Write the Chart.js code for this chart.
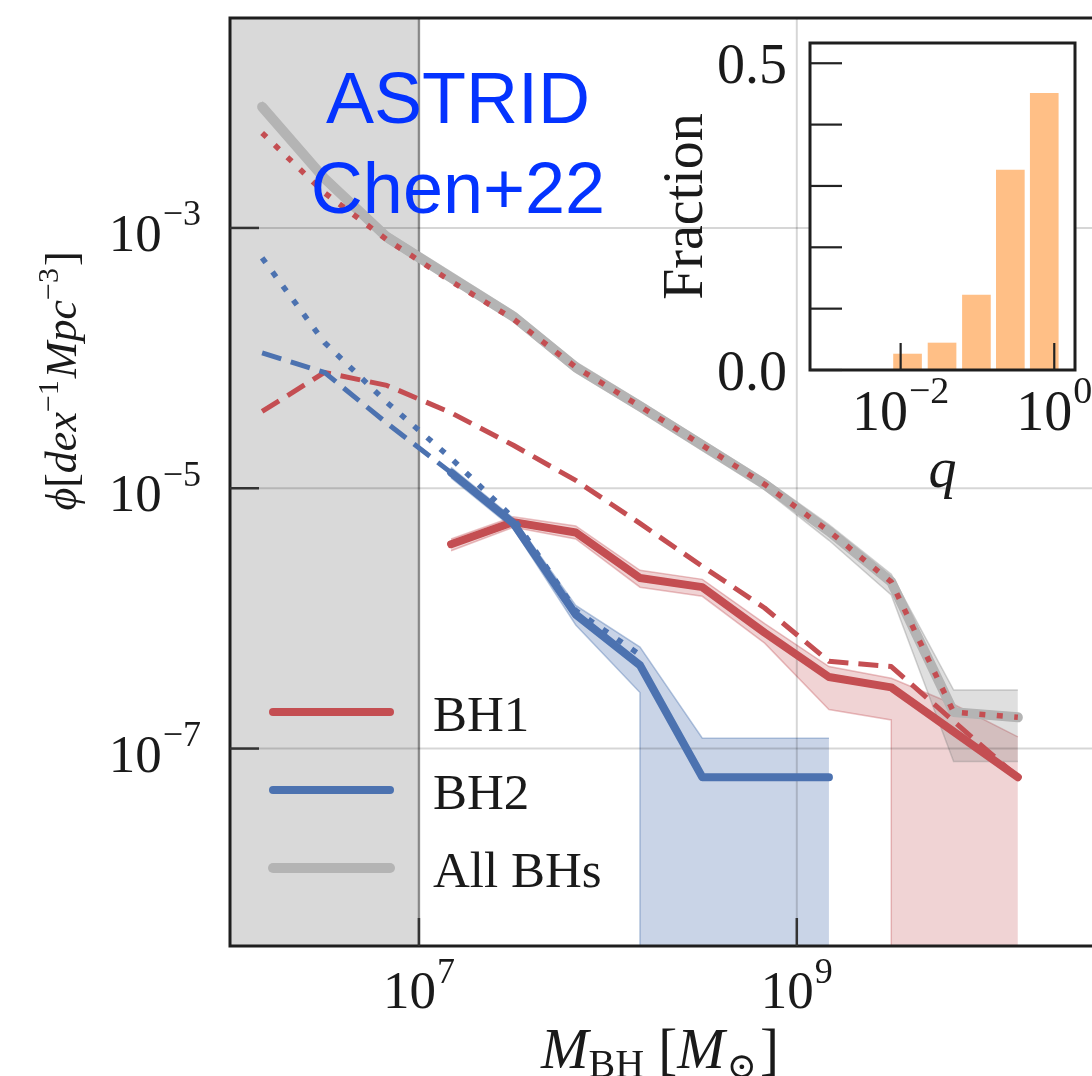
<!DOCTYPE html>
<html>
<head>
<meta charset="utf-8">
<title>BH mass function - ASTRID</title>
<script src="https://cdn.jsdelivr.net/npm/chart.js@4.4.1/dist/chart.umd.min.js"></script>
<style>
  html, body { margin: 0; padding: 0; background: #fff; overflow: hidden; }
  #wrap { position: relative; width: 1092px; height: 1076px; overflow: hidden; }
  #main { position: absolute; left: 0; top: 0; }
  #inset { position: absolute; left: 640px; top: 0; }
</style>
</head>
<body>
<div id="wrap">
  <canvas id="main" width="1136" height="1076"></canvas>
  <canvas id="inset" width="452" height="520"></canvas>
</div>
<script>
// mass bin centres, log10(M_BH / Msun)
const logMass = [6.17, 6.5, 6.83, 7.17, 7.5, 7.83, 8.17, 8.5, 8.83, 9.17, 9.5, 9.83, 10.17];

// log10(phi) per bin; null = not plotted, -Infinity = band drops to zero
const allBHs   = [-2.07, -2.62, -3.07, -3.38, -3.68, -4.07, -4.37, -4.67, -4.97, -5.33, -5.72, -6.72, -6.76];
const allBHsHi = [-2.03, -2.58, -3.03, -3.34, -3.64, -4.03, -4.33, -4.63, -4.93, -5.28, -5.66, -6.55, -6.55];
const allBHsLo = [-2.11, -2.66, -3.11, -3.42, -3.72, -4.11, -4.41, -4.71, -5.01, -5.40, -5.82, -7.10, -7.10];

const bh1       = [null, null, null, -5.43, -5.26, -5.34, -5.69, -5.76, -6.11, -6.45, -6.53, -6.87, -7.22];
const bh1Hi     = [null, null, null, -5.39, -5.22, -5.29, -5.63, -5.70, -6.04, -6.37, -6.46, -6.66, -6.91];
const bh1Lo     = [null, null, null, -5.48, -5.30, -5.39, -5.76, -5.83, -6.19, -6.70, -6.78, -Infinity, -Infinity];
const bh1Dashed = [-4.41, -4.11, -4.21, -4.42, -4.67, -4.94, -5.27, -5.60, -5.92, -6.33, -6.37, -6.79, -7.22];
const bh1Dotted = [-2.27, -2.73, -3.09, -3.41, -3.70, -4.07, -4.37, -4.67, -4.97, -5.33, -5.72, -6.72, -6.76];

const bh2       = [null, null, null, -4.88, -5.27, -5.97, -6.36, -7.22, -7.22, -7.22, null, null, null];
const bh2Hi     = [null, null, null, -4.84, -5.23, -5.90, -6.22, -6.92, -6.92, -6.92, null, null, null];
const bh2Lo     = [null, null, null, -4.92, -5.31, -6.05, -6.57, -Infinity, -Infinity, -Infinity, null, null, null];
const bh2Dashed = [-3.96, -4.11, -4.50, -4.88, null, null, null, null, null, null, null, null, null];
const bh2Dotted = [-3.23, -3.88, -4.34, -4.77, -5.23, -5.94, -6.28, null, null, null, null, null, null];

// shaded resolution region
const shadedMass = [1e6, 1e7];

// inset: mass ratio histogram
const qCenters  = [0.0123, 0.0346, 0.097, 0.268, 0.741];
const qFraction = [0.026, 0.044, 0.122, 0.326, 0.451];

const legendLabels = ['BH1', 'BH2', 'All BHs'];
const yTickExps = [-3, -5, -7];
const xTickExps = [7, 9];
const insetYTicks = [0, 0.1, 0.2, 0.3, 0.4, 0.5];
const insetYLabelled = ['0.0', null, null, null, null, '0.5'];
const insetXTickExps = [-2, 0];

const RED = '#c44e52', BLUE = '#4c72b0', GREY = '#b4b4b4';
const SERIF = '"Liberation Serif", "DejaVu Serif", serif';
const FLOOR = 1e-9;

function toPoints(logs) {
  const pts = [];
  logs.forEach((v, i) => {
    if (v === null) return;
    const x = 10 ** logMass[i];
    if (v === -Infinity) { pts.push({ x, y: FLOOR }); return; }
    pts.push({ x, y: 10 ** v });
    if (logs[i + 1] === -Infinity) pts.push({ x, y: FLOOR });
  });
  return pts;
}

function line(label, logs, color, width, dash, order, extra) {
  return Object.assign({
    label, data: toPoints(logs), borderColor: color, borderWidth: width,
    borderDash: dash || [], borderCapStyle: dash ? 'butt' : 'round',
    borderJoinStyle: 'round', fill: false, order
  }, extra || {});
}

function band(hi, lo, rgb, alpha, order) {
  const edge = `rgba(${rgb},${alpha + 0.1})`;
  return [
    { data: toPoints(hi), borderColor: edge, borderWidth: 1.5, backgroundColor: `rgba(${rgb},${alpha})`, fill: '+1', order },
    { data: toPoints(lo), borderColor: edge, borderWidth: 1.5, fill: false, order }
  ];
}

const datasets = [
  ...band(bh2Hi, bh2Lo, '76,114,176', 0.3, 30),
  ...band(bh1Hi, bh1Lo, '196,78,82', 0.25, 29),
  ...band(allBHsHi, allBHsLo, '128,128,128', 0.25, 28),
  line('All BHs', allBHs, GREY, 10, null, 9, { gridBelow: true }),
  line('BH1', bh1, RED, 8, null, 8),
  line('BH2', bh2, BLUE, 8, null, 7),
  line('BH1 dashed', bh1Dashed, RED, 5, [20, 10], 6),
  line('BH2 dashed', bh2Dashed, BLUE, 5, [20, 10], 5),
  line('BH2 dotted', bh2Dotted, BLUE, 5.5, [6, 11.5], 4),
  line('BH1 dotted', bh1Dotted, RED, 5.5, [6, 11.5], 3)
];

const legendColors = [RED, BLUE, GREY];
const legendWidths = [8, 8, 10];

function fontOf(p, base) {
  return `${p.italic ? 'italic ' : ''}${p.size || base}px ${p.family || SERIF}`;
}

function drawRich(ctx, parts, x, y, align, base) {
  const widths = parts.map(p => {
    ctx.font = fontOf(p, base);
    return ctx.measureText(p.t).width + (p.pre || 0);
  });
  const total = widths.reduce((a, b) => a + b, 0);
  let cx = align === 'center' ? x - total / 2 : align === 'right' ? x - total : x;
  ctx.textAlign = 'left';
  ctx.textBaseline = 'alphabetic';
  parts.forEach((p, i) => {
    ctx.font = fontOf(p, base);
    ctx.fillText(p.t, cx + (p.pre || 0), y + (p.dy || 0));
    cx += widths[i];
  });
}

function pow10(exp, size) {
  const e = exp < 0 ? '\u2212' + (-exp) : String(exp);
  return [{ t: '10', size }, { t: e, size: Math.round(size * 0.68), dy: -size * 0.48, pre: 1 }];
}

function drawGrid(chart) {
  const { ctx, chartArea: a, scales: { x, y } } = chart;
  ctx.save();
  ctx.strokeStyle = 'rgba(0,0,0,0.16)';
  ctx.lineWidth = 2;
  yTickExps.forEach(e => {
    const py = y.getPixelForValue(10 ** e);
    ctx.beginPath(); ctx.moveTo(a.left, py); ctx.lineTo(a.right, py); ctx.stroke();
  });
  xTickExps.forEach(e => {
    const px = x.getPixelForValue(10 ** e);
    ctx.beginPath(); ctx.moveTo(px, a.top); ctx.lineTo(px, a.bottom); ctx.stroke();
  });
  ctx.restore();
}

const mainDecor = {
  id: 'mainDecor',
  beforeDatasetsDraw(chart) {
    const { ctx, chartArea: a, scales: { x } } = chart;
    const x0 = x.getPixelForValue(shadedMass[0]);
    const x1 = x.getPixelForValue(shadedMass[1]);
    ctx.save();
    ctx.fillStyle = '#d9d9d9';
    ctx.fillRect(x0, a.top, x1 - x0, a.bottom - a.top);
    ctx.strokeStyle = 'rgba(140,140,140,0.75)';
    ctx.lineWidth = 2.5;
    ctx.beginPath(); ctx.moveTo(x1, a.top); ctx.lineTo(x1, a.bottom); ctx.stroke();
    ctx.restore();
  },
  beforeDatasetDraw(chart, args) {
    if (chart.data.datasets[args.index].gridBelow) drawGrid(chart);
  },
  afterDraw(chart) {
    const { ctx, chartArea: a, scales: { x, y } } = chart;
    ctx.save();
    // frame
    ctx.strokeStyle = '#1e1e1e';
    ctx.lineWidth = 3;
    ctx.strokeRect(a.left, a.top, a.right - a.left, a.bottom - a.top);
    // inward ticks
    ctx.lineWidth = 2.5;
    ctx.strokeStyle = '#333';
    yTickExps.forEach(e => {
      const py = y.getPixelForValue(10 ** e);
      ctx.beginPath(); ctx.moveTo(a.left, py); ctx.lineTo(a.left + 29, py); ctx.stroke();
    });
    xTickExps.forEach(e => {
      const px = x.getPixelForValue(10 ** e);
      ctx.beginPath(); ctx.moveTo(px, a.bottom); ctx.lineTo(px, a.bottom - 28); ctx.stroke();
    });
    // tick labels
    ctx.fillStyle = '#1a1a1a';
    yTickExps.forEach(e => {
      drawRich(ctx, pow10(e, 53), 201, y.getPixelForValue(10 ** e) + 23, 'right', 53);
    });
    xTickExps.forEach(e => {
      drawRich(ctx, pow10(e, 53), x.getPixelForValue(10 ** e), 1008, 'center', 53);
    });
    // x title
    drawRich(ctx, [
      { t: 'M', italic: true },
      { t: 'BH', size: 40, dy: 9 },
      { t: ' [' },
      { t: 'M', italic: true },
      { t: '\u2299', size: 36, dy: 10, pre: 2 },
      { t: ']', pre: 3 }
    ], 660, 1068, 'center', 57);
    // y title
    ctx.save();
    ctx.translate(76, 381);
    ctx.rotate(-Math.PI / 2);
    drawRich(ctx, [
      { t: '\u03d5', italic: true },
      { t: '[' },
      { t: 'dex', italic: true },
      { t: '\u22121', size: 30, dy: -18 },
      { t: 'Mpc', italic: true, pre: 2 },
      { t: '\u22123', size: 30, dy: -18 },
      { t: ']', pre: 2 }
    ], 0, 0, 'center', 44);
    ctx.restore();
    // legend
    legendLabels.forEach((lab, i) => {
      const ly = 712 + i * 78;
      ctx.strokeStyle = legendColors[i];
      ctx.lineWidth = legendWidths[i];
      ctx.lineCap = 'round';
      ctx.beginPath(); ctx.moveTo(273, ly); ctx.lineTo(390, ly); ctx.stroke();
      ctx.fillStyle = '#1a1a1a';
      ctx.font = `51px ${SERIF}`;
      ctx.textAlign = 'left';
      ctx.textBaseline = 'alphabetic';
      ctx.fillText(lab, 433, ly + 19);
    });
    // annotation
    ctx.fillStyle = '#0433ff';
    ctx.font = '72px "Liberation Sans", Arial, sans-serif';
    ctx.textAlign = 'center';
    ctx.fillText('ASTRID', 458, 123);
    ctx.fillText('Chen+22', 458, 213);
    ctx.restore();
  }
};

new Chart(document.getElementById('main'), {
  type: 'line',
  data: { datasets },
  options: {
    responsive: false,
    animation: false,
    devicePixelRatio: 1,
    layout: { padding: { top: 18, right: 18, left: 0, bottom: 0 } },
    plugins: { legend: { display: false }, tooltip: { enabled: false } },
    elements: { point: { radius: 0 }, line: { tension: 0 } },
    scales: {
      x: {
        type: 'logarithmic', bounds: 'data', min: 1e6, max: 10 ** 10.7,
        ticks: { display: false }, grid: { display: false }, border: { display: false },
        afterFit: s => { s.height = 130; }
      },
      y: {
        type: 'logarithmic', bounds: 'data', min: 10 ** -8.517, max: 10 ** -1.387,
        ticks: { display: false }, grid: { display: false }, border: { display: false },
        afterFit: s => { s.width = 230; }
      }
    }
  },
  plugins: [mainDecor]
});

const insetDecor = {
  id: 'insetDecor',
  beforeDatasetsDraw(chart) {
    const { ctx, chartArea: a } = chart;
    ctx.save();
    ctx.fillStyle = '#fff';
    ctx.fillRect(a.left, a.top, a.right - a.left, a.bottom - a.top);
    ctx.restore();
  },
  afterDraw(chart) {
    const { ctx, chartArea: a, scales: { x, y } } = chart;
    ctx.save();
    ctx.strokeStyle = '#1e1e1e';
    ctx.lineWidth = 3;
    ctx.strokeRect(a.left, a.top, a.right - a.left, a.bottom - a.top);
    ctx.lineWidth = 2.2;
    ctx.strokeStyle = '#222';
    insetYTicks.forEach(v => {
      const py = y.getPixelForValue(v);
      ctx.beginPath(); ctx.moveTo(a.left, py); ctx.lineTo(a.left + 32, py); ctx.stroke();
    });
    insetXTickExps.forEach(e => {
      const px = x.getPixelForValue(10 ** e);
      ctx.beginPath(); ctx.moveTo(px, a.bottom); ctx.lineTo(px, a.bottom - 27); ctx.stroke();
    });
    ctx.fillStyle = '#1a1a1a';
    insetYTicks.forEach((v, i) => {
      if (!insetYLabelled[i]) return;
      drawRich(ctx, [{ t: insetYLabelled[i] }], 147, y.getPixelForValue(v) + 20, 'right', 56);
    });
    insetXTickExps.forEach(e => {
      drawRich(ctx, pow10(e, 56), x.getPixelForValue(10 ** e), 430, 'center', 56);
    });
    drawRich(ctx, [{ t: 'q', italic: true }], (a.left + a.right) / 2, 487, 'center', 56);
    ctx.save();
    ctx.translate(62, (a.top + a.bottom) / 2);
    ctx.rotate(-Math.PI / 2);
    drawRich(ctx, [{ t: 'Fraction' }], 0, 0, 'center', 56);
    ctx.restore();
    ctx.restore();
  }
};

new Chart(document.getElementById('inset'), {
  type: 'bar',
  data: {
    datasets: [{
      data: qCenters.map((q, i) => ({ x: q, y: qFraction[i] })),
      backgroundColor: 'rgba(255,127,14,0.5)',
      borderWidth: 0,
      barThickness: 28
    }]
  },
  options: {
    responsive: false,
    animation: false,
    devicePixelRatio: 1,
    layout: { padding: { top: 43, right: 17, left: 0, bottom: 0 } },
    plugins: { legend: { display: false }, tooltip: { enabled: false } },
    scales: {
      x: {
        type: 'logarithmic', offset: false, bounds: 'data', min: 10 ** -3.18, max: 10 ** 0.27,
        ticks: { display: false }, grid: { display: false }, border: { display: false },
        afterFit: s => { s.height = 150; }
      },
      y: {
        type: 'linear', bounds: 'data', min: 0, max: 0.533,
        ticks: { display: false }, grid: { display: false }, border: { display: false },
        afterFit: s => { s.width = 170; }
      }
    }
  },
  plugins: [insetDecor]
});
</script>
</body>
</html>
